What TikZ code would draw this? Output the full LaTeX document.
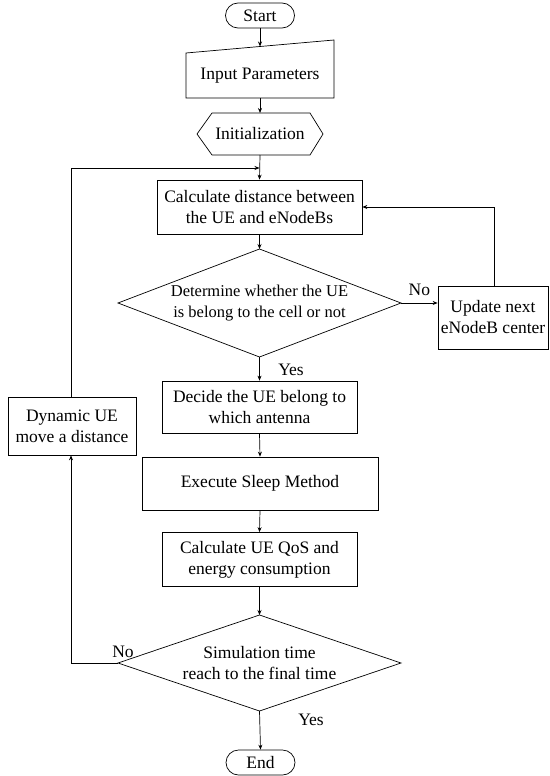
\documentclass[tikz,border=0pt]{standalone}
\usepackage{fontspec}
\setmainfont{Liberation Serif}
\usetikzlibrary{arrows.meta,shapes.misc}
\begin{document}
\begin{tikzpicture}[x=1pt,y=-1pt,
  font=\fontsize{17.5}{21}\selectfont,
  line width=0.7pt,
  >={Stealth[length=5pt,width=4pt]},
  box/.style={draw,rectangle,align=center,inner sep=0pt},
  term/.style={draw,rounded rectangle,inner sep=0pt,minimum width=69pt,minimum height=25pt},
  txt/.style={align=center,inner sep=0pt},
  lbl/.style={inner sep=0pt}]
\useasboundingbox (0,0) rectangle (549,776);

% nodes
\node[term] (start) at (260,15.5) {Start};
\node[txt] (inp) at (260,76) {Input Parameters};
\draw (186,53) -- (334,40) -- (334,98) -- (186,98) -- cycle;
\coordinate (inptop) at (260,46.5);
\coordinate (inpbot) at (260,98);

\node[txt] (init) at (260,134) {Initialization};
\draw (197,134) -- (212,113) -- (310,113) -- (323,134) -- (310,155) -- (212,155) -- cycle;
\coordinate (inittop) at (260,113);
\coordinate (initbot) at (260,155);

\node[box,minimum width=205pt,minimum height=54pt] (calc) at (259.5,207) {Calculate distance between\\the UE and eNodeBs};

\node[txt,font=\fontsize{16.5}{21}\selectfont] (d1) at (259.5,303) {Determine whether the UE\\is belong to the cell or not};
\coordinate (d1t) at (259.5,249);
\coordinate (d1b) at (259.5,357);
\coordinate (d1l) at (118,303);
\coordinate (d1r) at (401,303);
\draw (d1t) -- (d1r) -- (d1b) -- (d1l) -- cycle;

\node[box,minimum width=110pt,minimum height=63pt] (upd) at (493,317.5) {Update next\\eNodeB center};

\node[box,minimum width=195pt,minimum height=52pt] (dec) at (259.5,407) {Decide the UE belong to\\which antenna};

\node[box,minimum width=128pt,minimum height=58pt] (dyn) at (72,426) {Dynamic UE\\move a distance};

\node[box,minimum width=236pt,minimum height=53pt] (exe) at (260,483.5) {Execute Sleep Method};

\node[box,minimum width=195pt,minimum height=54pt] (qos) at (259.5,559.5) {Calculate UE QoS and\\energy consumption};

\node[txt] (d2) at (259.5,663) {Simulation time\\reach to the final time};
\coordinate (d2t) at (259.5,615);
\coordinate (d2b) at (259.5,711);
\coordinate (d2l) at (118,663);
\coordinate (d2r) at (401,663);
\draw (d2t) -- (d2r) -- (d2b) -- (d2l) -- cycle;

\node[term] (end) at (260.5,762.5) {End};

% connectors
\draw[->] (start) -- (inptop);
\draw[->] (inpbot) -- (inittop);
\draw[->] (initbot) -- (calc.north);
\draw[->] (calc.south) -- (d1t);
\draw[->] (d1r) -- (d1r -| upd.west) node[lbl,pos=0.5,above=7pt] {No};
\coordinate (updtop) at (494,286);
\draw[->] (updtop) |- (calc.east);
\draw[->] (d1b) -- (dec.north);
\node[lbl] (yes1) at (291,370) {Yes};
\draw[->] (dec.south) -- (exe.north);
\draw[->] (exe.south) -- (qos.north);
\draw[->] (qos.south) -- (d2t);
\draw[->] (d2b) -- (end.north);
\node[lbl] (yes2) at (311,720) {Yes};
\coordinate (loopb) at (71,663);
\coordinate (loopt) at (71,168);
\coordinate (join) at (259.5,168);
\draw[->] (d2l) -- (loopb) -- (loopb |- dyn.south);
\node[lbl] (no2) at (123,652) {No};
\draw[->] (loopt |- dyn.north) -- (loopt) -- (join);
\end{tikzpicture}
\end{document}
